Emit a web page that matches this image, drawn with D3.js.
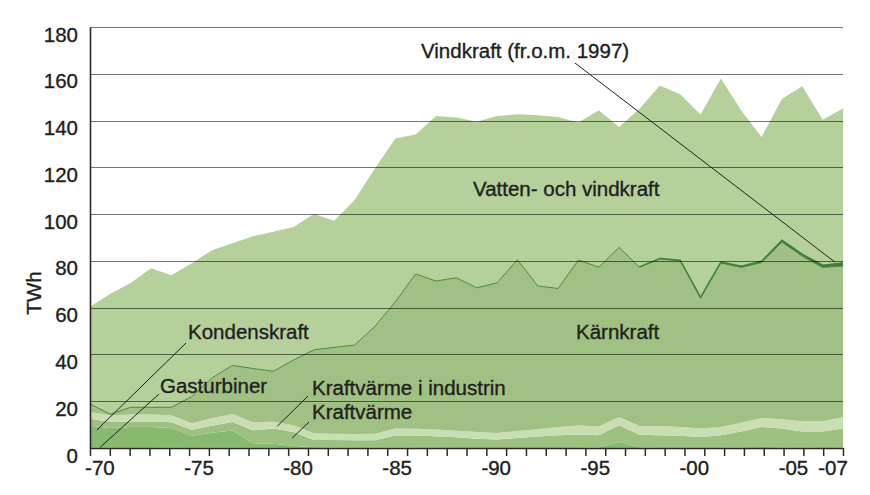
<!DOCTYPE html>
<html><head><meta charset="utf-8">
<script src="https://cdn.jsdelivr.net/npm/d3@7"></script>
<style>
body{margin:0;background:#fff}
svg{display:block}
text{font-family:"Liberation Sans",Arial,Helvetica,sans-serif;fill:#1e211c;stroke:#1e211c;stroke-width:0.35px;paint-order:stroke}
</style>
</head><body>
<svg id="chart" width="870" height="495"></svg>
<script>
// ---------- data (TWh) ----------
const years = [1970,1971,1972,1973,1974,1975,1976,1977,1978,1979,
               1980,1981,1982,1983,1984,1985,1986,1987,1988,1989,
               1990,1991,1992,1993,1994,1995,1996,1997,1998,1999,
               2000,2001,2002,2003,2004,2005,2006,2007];
const gasturbiner = [0.1,0.1,0.1,0.1,0.2,0.1,0.2,0.2,0.1,0.1,
                     0.1,0,0,0,0,0,0,0,0,0,
                     0,0,0,0,0,0,0.1,0,0,0,
                     0,0,0,0,0,0,0,0];
const kondenskraft = [9.4,8.4,8.9,8.9,8.3,5.1,6.3,7.3,1.9,1.7,
                      0.9,0.3,0.2,0.1,0.1,0.2,0.1,0.1,0,0,
                      0,0,0,0,0.1,0.2,2.6,0.2,0.1,0.1,
                      0.1,0.1,0.2,0.4,0.2,0.1,0.3,0.2];
const kraftvarme = [3.0,2.6,2.3,2.3,2.5,2.6,3.0,3.6,5.6,6.5,
                    5.8,3.1,3.2,3.2,3.2,5.1,5.2,4.9,4.6,4.0,
                    3.6,4.3,4.9,5.4,5.7,5.3,7.0,5.5,5.3,5.1,
                    4.6,5.3,6.9,8.6,8.1,7.0,6.8,8.1];
const kraftvarmeIndustri = [2.9,2.9,3.0,3.0,3.0,2.8,3.3,3.4,3.4,2.9,
                            2.9,2.9,2.7,2.7,2.8,3.0,2.9,2.9,2.8,2.8,
                            2.8,3.0,3.1,3.6,3.8,3.7,3.6,3.7,4.0,3.8,
                            3.6,3.6,3.7,3.8,4.0,4.3,4.3,5.0];
const karnkraft = [3.4,0.5,3.1,3.1,3.4,11.4,17.2,20.8,23.0,21.6,
                   27.9,35.7,36.9,38.0,45.9,54.2,66.2,63.5,65.4,61.7,
                   64.2,73.2,61.3,59.2,70.8,68.1,72.5,67.9,71.4,71.0,
                   55.7,70.1,66.4,66.5,75.7,70.6,65.8,64.5];
const vindkraft = [0,0,0,0,0,0,0,0,0,0,
                   0,0,0,0,0,0,0,0,0,0,
                   0,0,0,0,0,0,0,0.2,0.3,0.4,
                   0.5,0.5,0.6,0.6,0.9,0.9,1.0,1.4];
const vattenkraft = [41.6,51.5,53.1,59.4,56.5,57.0,54.6,52.2,56.5,59.7,
                     56.9,58.0,54.2,62.0,67.5,69.8,59.6,70.5,68.5,71.0,
                     71.3,62.2,73.0,73.3,58.8,67.1,51.4,67.5,73.9,70.9,
                     78.1,78.4,66.5,53.1,60.4,71.8,62.1,66.0];
const yTicks = [0,20,40,60,80,100,120,140,160,180];
const labelYears = [1970,1975,1980,1985,1990,1995,2000,2005,2007];
const labelTexts = ["-70","-75","-80","-85","-90","-95","-00","-05","-07"];

const seriesKeys = ["gasturbiner","kondenskraft","kraftvarme","industri","karnkraft","vindkraft","vatten"];
const seriesColors = {
  gasturbiner:"#6fa95c", kondenskraft:"#87b96f", kraftvarme:"#9ec182",
  industri:"#c9deb3", karnkraft:"#a0c183", vindkraft:"#3f7c3d", vatten:"#b6d09b"
};

// ---------- build ----------
const rows = years.map((yr,i)=>({
  year:yr, gasturbiner:gasturbiner[i], kondenskraft:kondenskraft[i], kraftvarme:kraftvarme[i],
  industri:kraftvarmeIndustri[i], karnkraft:karnkraft[i], vindkraft:vindkraft[i], vatten:vattenkraft[i]
}));
const stacked = d3.stack().keys(seriesKeys)(rows);

const svg = d3.select("#chart");
const x = d3.scaleLinear().domain([1970,2007]).range([90,843]);
const xb = d3.scaleLinear().domain([1970,2008]).range([90,843]); // year boundaries for ticks
const y = d3.scaleLinear().domain([0,180]).range([448,27]);

const area = d3.area().x(d=>x(d.data.year)).y0(d=>y(d[0])).y1(d=>y(d[1]));
svg.append("g").selectAll("path").data(stacked).join("path")
  .attr("d",area).attr("fill",d=>seriesColors[d.key]);

// top of nuclear layer line
const nuc = stacked.find(s=>s.key==="karnkraft");
svg.append("path").datum(nuc)
  .attr("d",d3.line().x(d=>x(d.data.year)).y(d=>y(d[1])))
  .attr("fill","none").attr("stroke","#4f8449").attr("stroke-width",1);
const wind = stacked.find(s=>s.key==="vindkraft");
svg.append("path").datum(wind.filter(d=>d.data.year>=1997))
  .attr("d",d3.line().x(d=>x(d.data.year)).y(d=>y(d[1])))
  .attr("fill","none").attr("stroke","#3f7c3d").attr("stroke-width",1.2);

// gridlines
svg.append("g").selectAll("line").data(yTicks.filter(v=>v>0)).join("line")
  .attr("x1",90).attr("x2",843)
  .attr("y1",d=>Math.round(y(d))+0.5).attr("y2",d=>Math.round(y(d))+0.5)
  .attr("stroke","#000").attr("stroke-opacity",0.55).attr("stroke-width",1);

// y axis
const yAxis = svg.append("g").attr("transform","translate(90,0)")
  .call(d3.axisLeft(y).tickValues(yTicks).tickSize(0).tickPadding(12).tickSizeOuter(0));
yAxis.select(".domain").attr("stroke","#2a2a2a").attr("stroke-width",1.6);
yAxis.selectAll("text").attr("y",7.5).attr("font-size",20.5)
  .style("font-family",'"Liberation Sans",Arial,sans-serif').attr("fill","#1e211c");

// x axis
const xAxis = svg.append("g").attr("transform","translate(0,448)")
  .call(d3.axisBottom(xb).tickValues(d3.range(1970,2009)).tickSize(8).tickSizeOuter(0).tickFormat(""));
xAxis.select(".domain").attr("stroke","#2a2a2a").attr("stroke-width",1.6);
xAxis.selectAll(".tick line").attr("stroke","#2a2a2a").attr("stroke-width",1.5);
svg.append("g").selectAll("text").data(labelYears).join("text")
  .attr("x",(d)=>xb(d+0.5)).attr("y",475).attr("text-anchor","middle").attr("font-size",20.5)
  .text((d,i)=>labelTexts[i]);

// y title
svg.append("text").attr("transform","translate(41,293) rotate(-90)")
  .attr("text-anchor","middle").attr("font-size",20.5).text("TWh");

// annotations
const notes = [
  {t:"Vindkraft (fr.o.m. 1997)", x:421, y:58},
  {t:"Vatten- och vindkraft", x:473, y:196},
  {t:"Kärnkraft", x:576, y:339},
  {t:"Kondenskraft", x:188, y:339},
  {t:"Gasturbiner", x:160, y:393},
  {t:"Kraftvärme i industrin", x:312, y:395},
  {t:"Kraftvärme", x:312, y:419}
];
svg.append("g").selectAll("text").data(notes).join("text")
  .attr("x",d=>d.x).attr("y",d=>d.y).attr("font-size",20.5).text(d=>d.t);

const pointers = [
  {from:[575,63], year:2006.6, val:79.5},
  {from:[186,343], year:1970.34, val:7.7},
  {from:[159,394], year:1970.5, val:0.3},
  {from:[308,396], year:1979.2, val:9.3},
  {from:[309,422], year:1979.93, val:4.2}
];
svg.append("g").selectAll("line").data(pointers).join("line")
  .attr("x1",d=>d.from[0]).attr("y1",d=>d.from[1])
  .attr("x2",d=>x(d.year)).attr("y2",d=>y(d.val))
  .attr("stroke","#1e211c").attr("stroke-width",1);
</script>
</body></html>
